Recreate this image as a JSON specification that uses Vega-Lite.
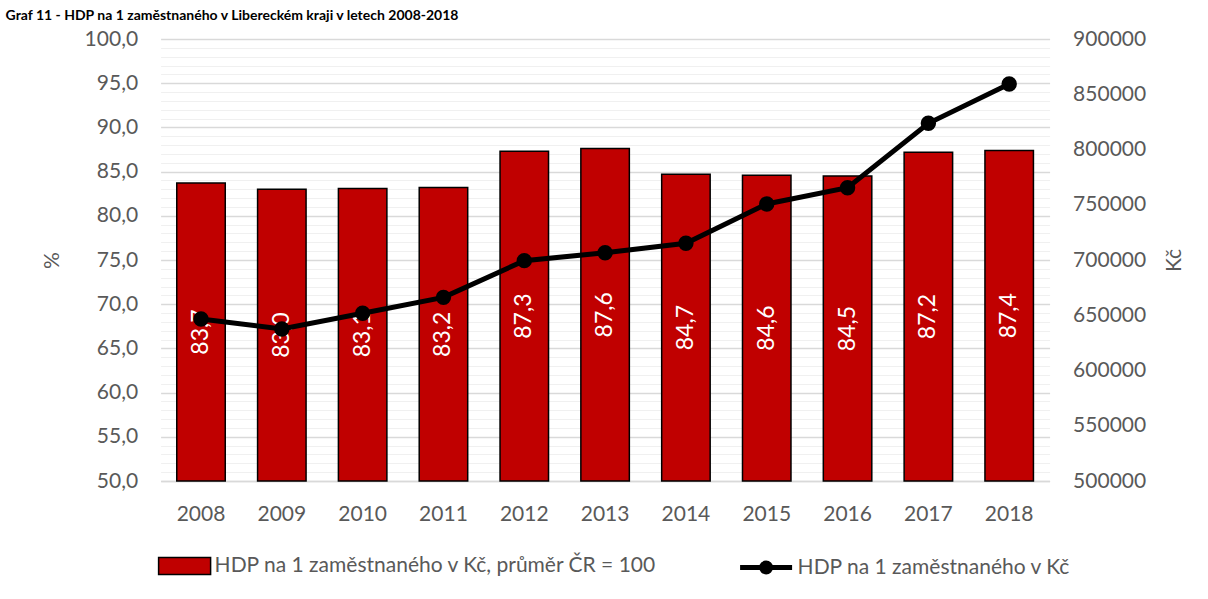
{
  "$schema": "https://vega.github.io/schema/vega-lite/v6.json",
  "width": 889,
  "height": 442,
  "autosize": {"type": "none"},
  "padding": {"left": 160.6, "top": 39, "right": 158.4, "bottom": 118},
  "background": "white",
  "title": {
    "text": "Graf 11 - HDP na 1 zaměstnaného v Libereckém kraji v letech 2008-2018",
    "anchor": "start",
    "frame": "group",
    "orient": "top",
    "baseline": "bottom",
    "offset": -9,
    "dx": -155,
    "font": "Lato",
    "fontSize": 14,
    "fontWeight": "bold",
    "color": "#000000"
  },
  "data": {
    "values": [
      {"rok": "2008", "pct": 83.7, "kc": 646600},
      {"rok": "2009", "pct": 83.0, "kc": 637600},
      {"rok": "2010", "pct": 83.1, "kc": 651800},
      {"rok": "2011", "pct": 83.2, "kc": 666200},
      {"rok": "2012", "pct": 87.3, "kc": 699400},
      {"rok": "2013", "pct": 87.6, "kc": 706600},
      {"rok": "2014", "pct": 84.7, "kc": 715100},
      {"rok": "2015", "pct": 84.6, "kc": 750700},
      {"rok": "2016", "pct": 84.5, "kc": 765400},
      {"rok": "2017", "pct": 87.2, "kc": 823700},
      {"rok": "2018", "pct": 87.4, "kc": 859300}
    ]
  },
  "encoding": {
    "x": {
      "field": "rok",
      "type": "nominal",
      "scale": {"paddingInner": 0.4, "paddingOuter": 0.2},
      "axis": {
        "title": null,
        "labelAngle": 0,
        "labelFont": "Lato",
        "labelFontSize": 21,
        "labelColor": "#595959",
        "labelPadding": 22,
        "ticks": false,
        "domainColor": "#d9d9d9",
        "domainWidth": 1.5,
        "grid": false
      }
    }
  },
  "layer": [
    {
      "layer": [
        {
          "mark": {"type": "bar", "stroke": "#000000", "strokeWidth": 1.5},
          "encoding": {
            "y": {
              "field": "pct",
              "type": "quantitative",
              "scale": {"domain": [50, 100], "nice": false, "zero": false},
              "axis": {
                "title": "%",
                "titleFont": "Lato",
                "titleFontSize": 21,
                "titleFontWeight": "normal",
                "titleColor": "#595959",
                "titlePadding": 22,
                "values": [50,51,52,53,54,55,56,57,58,59,60,61,62,63,64,65,66,67,68,69,70,71,72,73,74,75,76,77,78,79,80,81,82,83,84,85,86,87,88,89,90,91,92,93,94,95,96,97,98,99,100],
                "labelExpr": "datum.value % 5 === 0 ? replace(format(datum.value, '.1f'), '.', ',') : ''",
                "labelOverlap": false,
                "labelFont": "Lato",
                "labelFontSize": 21,
                "labelColor": "#595959",
                "labelPadding": 23,
                "ticks": false,
                "domain": false,
                "grid": true,
                "gridColor": {"condition": {"test": "datum.value % 5 === 0", "value": "#d9d9d9"}, "value": "#f0f0f0"},
                "gridWidth": {"condition": {"test": "datum.value % 5 === 0", "value": 1.5}, "value": 1.2}
              }
            },
            "y2": {"datum": 50},
            "color": {
              "datum": "HDP na 1 zaměstnaného v Kč, průměr ČR = 100",
              "scale": {"range": ["#c00000"]},
              "legend": {
                "title": null,
                "orient": "none",
                "legendX": -3,
                "legendY": 500,
                "padding": 0,
                "symbolType": "M-1,-0.33H1V0.33H-1Z",
                "symbolSize": 2704,
                "symbolStrokeColor": "#000000",
                "symbolStrokeWidth": 1.5,
                "symbolOpacity": 1,
                "labelFont": "Lato",
                "labelFontSize": 21,
                "labelColor": "#595959",
                "labelOffset": 3,
                "labelLimit": 600
              }
            }
          }
        },
        {
          "transform": [{"calculate": "(datum.pct + 50) / 2", "as": "mid"}],
          "mark": {"type": "text", "angle": 270, "color": "#ffffff", "font": "Lato", "fontSize": 23, "align": "center", "baseline": "middle"},
          "encoding": {
            "y": {
              "field": "mid",
              "type": "quantitative",
              "axis": {
                "title": "%",
                "titleFont": "Lato",
                "titleFontSize": 21,
                "titleFontWeight": "normal",
                "titleColor": "#595959",
                "titlePadding": 22,
                "values": [50,51,52,53,54,55,56,57,58,59,60,61,62,63,64,65,66,67,68,69,70,71,72,73,74,75,76,77,78,79,80,81,82,83,84,85,86,87,88,89,90,91,92,93,94,95,96,97,98,99,100],
                "labelExpr": "datum.value % 5 === 0 ? replace(format(datum.value, '.1f'), '.', ',') : ''",
                "labelOverlap": false,
                "labelFont": "Lato",
                "labelFontSize": 21,
                "labelColor": "#595959",
                "labelPadding": 23,
                "ticks": false,
                "domain": false,
                "grid": true,
                "gridColor": {"condition": {"test": "datum.value % 5 === 0", "value": "#d9d9d9"}, "value": "#f0f0f0"},
                "gridWidth": {"condition": {"test": "datum.value % 5 === 0", "value": 1.5}, "value": 1.2}
              }
            },
            "text": {"field": "pct", "type": "quantitative", "format": ".1f", "formatType": "number"}
          }
        }
      ]
    },
    {
      "mark": {"type": "line", "strokeWidth": 5, "point": {"filled": true, "fill": "#000000", "size": 180, "opacity": 1}},
      "encoding": {
        "y": {
          "field": "kc",
          "type": "quantitative",
          "scale": {"domain": [500000, 900000], "nice": false, "zero": false},
          "axis": {
            "orient": "right",
            "title": "Kč",
            "titleAngle": 270,
            "titleBaseline": "top",
            "titleFont": "Lato",
            "titleFontSize": 21,
            "titleFontWeight": "normal",
            "titleColor": "#595959",
            "titlePadding": 18,
            "values": [500000, 550000, 600000, 650000, 700000, 750000, 800000, 850000, 900000],
            "format": "d",
            "labelFont": "Lato",
            "labelFontSize": 21,
            "labelColor": "#595959",
            "labelPadding": 23,
            "ticks": false,
            "domain": false,
            "grid": false
          }
        },
        "stroke": {
          "datum": "HDP na 1 zaměstnaného v Kč",
          "scale": {"range": ["#000000"]},
          "legend": {
            "title": null,
            "orient": "none",
            "legendX": 577,
            "legendY": 500,
            "padding": 0,
            "symbolType": "M-1,0H1M0.17,0A0.17,0.17,0,1,1,-0.17,0A0.17,0.17,0,1,1,0.17,0Z",
            "symbolSize": 2704,
            "symbolStrokeWidth": 5,
            "symbolFillColor": "#000000",
            "symbolStrokeColor": "#000000",
            "labelFont": "Lato",
            "labelFontSize": 21,
            "labelColor": "#595959",
            "labelOffset": 3,
            "labelLimit": 600
          }
        }
      }
    }
  ],
  "resolve": {"scale": {"y": "independent", "color": "independent"}, "axis": {"y": "independent"}},
  "config": {
    "view": {"stroke": null},
    "locale": {"number": {"decimal": ",", "thousands": "", "grouping": [3], "currency": ["", " Kč"]}}
  }
}
